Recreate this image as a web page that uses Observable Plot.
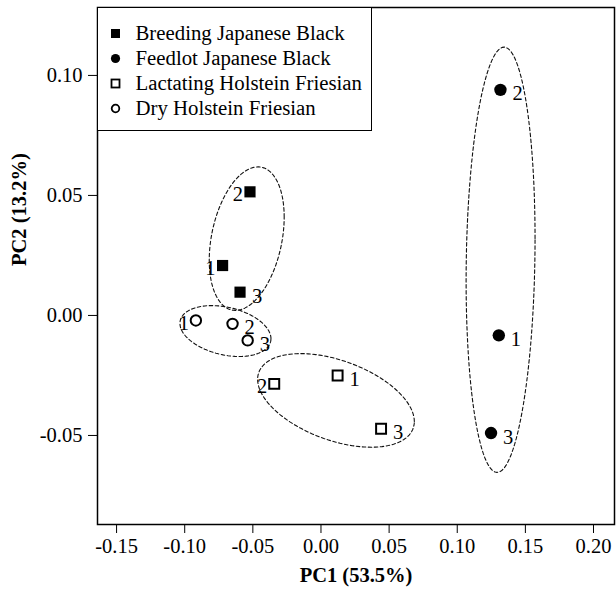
<!DOCTYPE html>
<html>
<head>
<meta charset="utf-8">
<script src="https://cdn.jsdelivr.net/npm/d3@7"></script>
<script src="https://cdn.jsdelivr.net/npm/@observablehq/plot@0.6"></script>
<style>
  html, body { margin: 0; padding: 0; background: #fff; }
  #wrap { position: relative; width: 616px; height: 592px; font-family: "Liberation Serif", "DejaVu Serif", serif; }
  #legend { position: absolute; left: 96.5px; top: 6.5px; width: 275px; height: 124px; border: 1.5px solid #000; background: #fff; box-sizing: border-box; }
  .row { position: absolute; left: 0; height: 25px; display: flex; align-items: center; font-size: 20.8px; color: #000; white-space: nowrap; }
  .row svg { margin-left: 12px; margin-right: 15px; }
</style>
</head>
<body>
<div id="wrap"><div id="chart"></div><div id="legend"></div></div>
<script>
// ---- data ----
const groups = ["Breeding Japanese Black", "Feedlot Japanese Black", "Lactating Holstein Friesian", "Dry Holstein Friesian"];
const pointGroup = [0, 0, 0, 1, 1, 1, 2, 2, 2, 3, 3, 3];
const pointRep   = ["2", "1", "3", "2", "1", "3", "2", "1", "3", "1", "2", "3"];
const pc1 = [-0.0521, -0.0722, -0.0594, 0.1317, 0.1305, 0.1248, -0.0343, 0.0122, 0.0441, -0.0918, -0.0649, -0.0538];
const pc2 = [0.0515, 0.0208, 0.0097, 0.0940, -0.0083, -0.0490, -0.0285, -0.0250, -0.0472, -0.0021, -0.0035, -0.0104];
const labelSide = ["L", "L", "R", "R", "R", "R", "L", "R", "R", "L", "R", "R"];

// ellipses per group: centre, half-extent along x and y, correlation
const ellCx  = [-0.0545, 0.1318, 0.0110, -0.0701];
const ellCy  = [0.0320, 0.0232, -0.0354, -0.0065];
const ellRx  = [0.0275, 0.0253, 0.0575, 0.0334];
const ellRy  = [0.0299, 0.0886, 0.0195, 0.0106];
const ellRho = [0.30, 0.10, -0.45, -0.30];

const xTicks = [-0.15, -0.10, -0.05, 0.00, 0.05, 0.10, 0.15, 0.20];
const yTicks = [-0.05, 0.00, 0.05, 0.10];
const xDomain = [-0.164, 0.2154];
const yDomain = [-0.0871, 0.1283];
const xLabel = "PC1 (53.5%)";
const yLabel = "PC2 (13.2%)";

// ---- build tables ----
const points = pc1.map((x, i) => ({x, y: pc2[i], g: pointGroup[i], rep: pointRep[i], side: labelSide[i]}));
const ellPts = [];
groups.forEach((name, g) => {
  const n = 120;
  for (let k = 0; k <= n; k++) {
    const t = 2 * Math.PI * k / n;
    const r = ellRho[g];
    ellPts.push({g,
      x: ellCx[g] + ellRx[g] * Math.cos(t),
      y: ellCy[g] + ellRy[g] * (r * Math.cos(t) + Math.sqrt(1 - r * r) * Math.sin(t))});
  }
});

const sel = g => points.filter(p => p.g === g);

const chart = Plot.plot({
  width: 616, height: 592,
  marginLeft: 97, marginRight: 2, marginTop: 7, marginBottom: 68,
  style: {fontFamily: "'Liberation Serif', 'DejaVu Serif', serif", fontSize: "20.5px", color: "#000", background: "#fff"},
  x: {domain: xDomain, ticks: xTicks, tickFormat: d => d.toFixed(2), tickSize: 9, tickPadding: 5, label: null},
  y: {domain: yDomain, ticks: yTicks, tickFormat: d => d.toFixed(2), tickSize: 9, tickPadding: 6, label: null},
  marks: [
    Plot.line(ellPts, {x: "x", y: "y", z: "g", stroke: "#111", strokeWidth: 1.1, strokeDasharray: "3.5,2.5"}),
    Plot.dot(sel(0), {x: "x", y: "y", symbol: "square", r: 6.3, fill: "#000", stroke: "none"}),
    Plot.dot(sel(1), {x: "x", y: "y", symbol: "circle", r: 6.2, fill: "#000", stroke: "none"}),
    Plot.dot(sel(2), {x: "x", y: "y", symbol: "square", r: 5.6, fill: "#fff", stroke: "#000", strokeWidth: 2}),
    Plot.dot(sel(3), {x: "x", y: "y", symbol: "circle", r: 5.2, fill: "#fff", stroke: "#000", strokeWidth: 2}),
    Plot.text(points.filter(p => p.side === "L"), {x: "x", y: "y", text: "rep", textAnchor: "end", dx: -7, dy: 3, fontSize: 20.5, fill: "#000"}),
    Plot.text(points.filter(p => p.side === "R"), {x: "x", y: "y", text: "rep", textAnchor: "start", dx: 12, dy: 4, fontSize: 20.5, fill: "#000"}),
    Plot.frame({stroke: "#000", strokeWidth: 1.5}),
    Plot.text([xLabel], {frameAnchor: "bottom", dy: 51, fontWeight: "bold", fontSize: 20.5, fill: "#000", lineAnchor: "middle"}),
    Plot.text([yLabel], {frameAnchor: "left", dx: -78, rotate: -90, fontWeight: "bold", fontSize: 20.5, fill: "#000", lineAnchor: "middle"})
  ]
});
document.getElementById("chart").appendChild(chart);

// ---- legend ----
const legend = document.getElementById("legend");
const sym = [
  '<rect x="1" y="1" width="9" height="9" fill="#000"/>',
  '<circle cx="5.5" cy="5.5" r="4.6" fill="#000"/>',
  '<rect x="1.5" y="1.5" width="8" height="8" fill="#fff" stroke="#000" stroke-width="1.8"/>',
  '<circle cx="5.5" cy="5.5" r="3.8" fill="#fff" stroke="#000" stroke-width="1.8"/>'
];
groups.forEach((name, i) => {
  const row = document.createElement("div");
  row.className = "row";
  row.style.top = (13 + 25 * i) + "px";
  row.innerHTML = `<svg width="11" height="11">${sym[i]}</svg><span>${name}</span>`;
  legend.appendChild(row);
});
</script>
</body>
</html>
